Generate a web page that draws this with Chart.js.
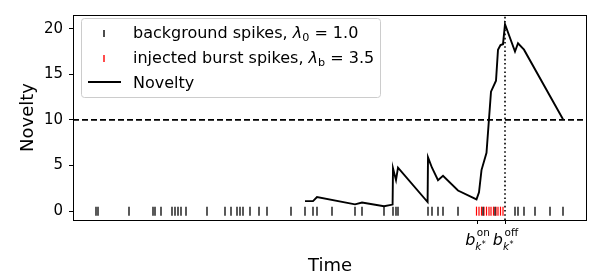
<!DOCTYPE html>
<html><head><meta charset="utf-8">
<script src="https://cdn.jsdelivr.net/npm/chart.js@4/dist/chart.umd.min.js"></script>
<style>html,body{margin:0;padding:0;background:#fff;overflow:hidden}#c{display:block}</style>
</head><body>
<canvas id="c" width="611" height="280"></canvas>
<script>
// ---- data (time in arbitrary units) ----
const backgroundSpikes = [23, 25, 56, 80, 82, 88, 99, 102, 105, 108, 113, 134, 152, 158, 164, 167, 170, 177, 186, 194, 218, 232, 240, 244, 259, 282, 289, 311, 320, 323, 325, 355, 359, 365, 370, 385, 410, 422, 442, 445, 451, 462, 477, 490];
const burstSpikes = [403.5, 406, 408.5, 411, 413.5, 416, 418, 420.5, 423, 425, 427.5, 430];
const noveltyTime  = [232, 240, 244, 282, 289, 311, 319.6, 320, 323, 325, 354.6, 355, 359, 365, 370, 385, 403.5, 406, 408.5, 413.5, 418, 423, 425, 427.5, 430, 432, 442, 445, 451, 490];
const noveltyValue = [1.1, 1.1, 1.55, 0.75, 0.94, 0.54, 0.72, 4.7, 3.4, 4.76, 1.0, 5.9, 4.76, 3.4, 3.87, 2.26, 1.29, 2.07, 4.5, 6.4, 13.1, 14.3, 17.7, 18.2, 18.3, 20.5, 17.5, 18.4, 17.7, 10.07];
const threshold = 10;
const burstOn = 404;
const burstOff = 432;
const yTicks = [0, 5, 10, 15, 20];
const xRange = [0, 514];
const yRange = [-0.97, 21.5];
const legendLabels = ['background spikes, ', 'injected burst spikes, ', 'Novelty'];
const lambda0 = '1.0', lambdaB = '3.5';

const FONT = '"DejaVu Sans", sans-serif';
const AREA = {left: 73, top: 11, right: 587, bottom: 220};

function drawRuns(ctx, x, base, parts, measureOnly) {
  for (const p of parts) {
    ctx.font = (p.italic ? 'italic ' : '') + p.size + 'px ' + FONT;
    if (!measureOnly) ctx.fillText(p.t, x, base + (p.dy || 0));
    x += ctx.measureText(p.t).width + (p.dx || 0);
  }
  return x;
}

function drawBLabel(ctx, cx, sup) {
  const s = 16, ss = 10.5, st = 8;
  ctx.font = 'italic ' + s + 'px ' + FONT;
  const bw = ctx.measureText('b').width;
  ctx.font = ss + 'px ' + FONT;
  const supW = ctx.measureText(sup).width;
  ctx.font = 'italic ' + ss + 'px ' + FONT;
  const kw = ctx.measureText('k').width;
  ctx.font = st + 'px ' + FONT;
  const starW = ctx.measureText('*').width;
  const scriptW = Math.max(supW + 1.5, kw + starW + 0.5);
  let x = cx - (bw + scriptW) / 2;
  const base = 245;
  ctx.font = 'italic ' + s + 'px ' + FONT;
  ctx.fillText('b', x, base);
  ctx.font = ss + 'px ' + FONT;
  ctx.fillText(sup, x + bw + 1.5, base - 9);
  ctx.font = 'italic ' + ss + 'px ' + FONT;
  ctx.fillText('k', x + bw, base + 5);
  ctx.font = st + 'px ' + FONT;
  ctx.fillText('*', x + bw + kw + 0.5, base + 2);
}

const decor = {
  id: 'decor',
  afterDatasetsDraw(chart) {
    const ctx = chart.ctx;
    const a = chart.chartArea;
    const xs = chart.scales.x;
    ctx.save();
    // frame
    ctx.strokeStyle = '#000';
    ctx.lineWidth = 1;
    ctx.strokeRect(a.left + 0.5, a.top + 0.5, a.right - a.left - 1, a.bottom - a.top);
    // x ticks
    ctx.fillStyle = '#000';
    ctx.textBaseline = 'alphabetic';
    ctx.textAlign = 'left';
    [[burstOn, 'on'], [burstOff, 'off']].forEach(([t, sup]) => {
      const px = Math.round(xs.getPixelForValue(t)) + 0.5;
      ctx.beginPath();
      ctx.moveTo(px, a.bottom);
      ctx.lineTo(px, a.bottom + 4);
      ctx.stroke();
      drawBLabel(ctx, px, sup);
    });
    // legend
    const tx = 133, fs = 16;
    const rows = [37.5, 62.5, 87.5];
    const row1 = [
      {t: legendLabels[0], size: fs},
      {t: 'λ', size: fs, italic: true},
      {t: '0', size: fs * 0.7, dy: 3},
      {t: ' = ' + lambda0, size: fs}
    ];
    const row2 = [
      {t: legendLabels[1], size: fs},
      {t: 'λ', size: fs, italic: true},
      {t: 'b', size: fs * 0.7, dy: 3},
      {t: ' = ' + lambdaB, size: fs}
    ];
    const row3 = [{t: legendLabels[2], size: fs}];
    const maxEnd = Math.max(drawRuns(ctx, tx, 0, row1, true), drawRuns(ctx, tx, 0, row2, true), drawRuns(ctx, tx, 0, row3, true));
    const L = {x: 81.5, y: 18.5, w: Math.round(maxEnd + 6.5 - 81.5), h: 79};
    ctx.beginPath();
    if (ctx.roundRect) ctx.roundRect(L.x, L.y, L.w, L.h, 3); else ctx.rect(L.x, L.y, L.w, L.h);
    ctx.fillStyle = 'rgba(255,255,255,0.8)';
    ctx.fill();
    ctx.strokeStyle = '#cccccc';
    ctx.lineWidth = 1;
    ctx.stroke();
    // handles
    ctx.lineWidth = 1.4;
    ctx.strokeStyle = '#000';
    ctx.beginPath(); ctx.moveTo(104, rows[0] - 7.5); ctx.lineTo(104, rows[0] - 0.5); ctx.stroke();
    ctx.strokeStyle = '#ff0000';
    ctx.beginPath(); ctx.moveTo(104, rows[1] - 7.5); ctx.lineTo(104, rows[1] - 0.5); ctx.stroke();
    ctx.strokeStyle = '#000';
    ctx.lineWidth = 1.9;
    ctx.beginPath(); ctx.moveTo(88, rows[2] - 5.5); ctx.lineTo(121, rows[2] - 5.5); ctx.stroke();
    ctx.fillStyle = '#000';
    drawRuns(ctx, tx, rows[0], row1);
    drawRuns(ctx, tx, rows[1], row2);
    drawRuns(ctx, tx, rows[2], row3);
    ctx.restore();
  }
};

new Chart(document.getElementById('c'), {
  type: 'scatter',
  data: {
    datasets: [
      {
        type: 'line', label: 'threshold', order: 0,
        data: [{x: xRange[0], y: threshold}, {x: xRange[1], y: threshold}],
        borderColor: '#000', borderWidth: 1.6, borderDash: [6, 3], pointRadius: 0, fill: false
      },
      {
        type: 'line', label: 'offset', order: 0,
        data: [{x: burstOff, y: yRange[0]}, {x: burstOff, y: yRange[1]}],
        borderColor: '#000', borderWidth: 1.6, borderDash: [1.6, 2.6], pointRadius: 0, fill: false
      },
      {
        type: 'line', label: 'Novelty', order: 1,
        data: noveltyTime.map((t, i) => ({x: t, y: noveltyValue[i]})),
        borderColor: '#000', borderWidth: 1.9, pointRadius: 0, tension: 0, fill: false
      },
      {
        label: 'injected burst spikes', order: 3,
        data: burstSpikes.map(t => ({x: t, y: 0})),
        pointStyle: 'line', rotation: 90, radius: 4.5, borderWidth: 1.2,
        borderColor: '#ff0000', backgroundColor: '#ff0000'
      },
      {
        label: 'background spikes', order: 2,
        data: backgroundSpikes.map(t => ({x: t, y: 0})),
        pointStyle: 'line', rotation: 90, radius: 4.5, borderWidth: 1.3,
        borderColor: '#000', backgroundColor: '#000'
      }
    ]
  },
  options: {
    responsive: false,
    animation: false,
    devicePixelRatio: 1,
    events: [],
    layout: {padding: {left: 0, top: AREA.top, right: 611 - AREA.right, bottom: 0}},
    plugins: {legend: {display: false}, tooltip: {enabled: false}},
    scales: {
      x: {
        type: 'linear', min: xRange[0], max: xRange[1],
        grid: {display: false},
        border: {display: false},
        ticks: {display: false},
        title: {display: true, text: 'Time', color: '#000', font: {family: FONT, size: 18}, padding: {top: 0, bottom: 3}},
        afterFit(s) { s.height = 280 - AREA.bottom; }
      },
      y: {
        type: 'linear', min: yRange[0], max: yRange[1],
        afterBuildTicks(s) { s.ticks = yTicks.map(v => ({value: v})); },
        grid: {display: true, drawOnChartArea: false, drawTicks: true, tickLength: 4, color: '#000', lineWidth: 1},
        border: {display: false},
        ticks: {color: '#000', font: {family: FONT, size: 15}, padding: 6},
        title: {display: true, text: 'Novelty', color: '#000', font: {family: FONT, size: 18}, padding: {top: 18, bottom: 0}},
        afterFit(s) { s.width = AREA.left; }
      }
    }
  },
  plugins: [decor]
});
</script>
</body></html>
